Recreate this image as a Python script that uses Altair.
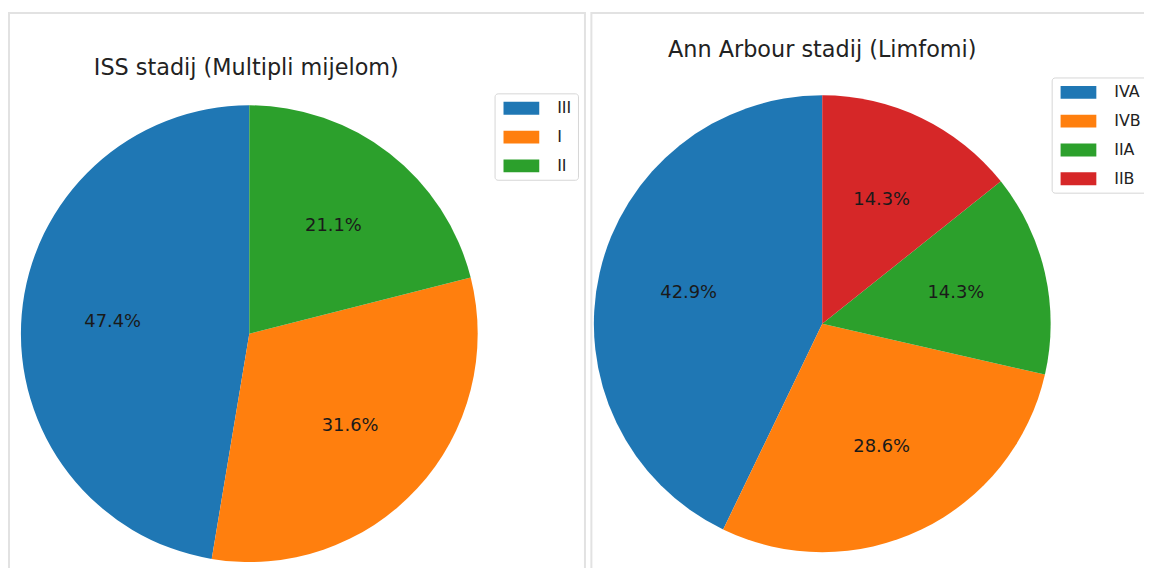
import altair as alt
import pandas as pd

# ---- data ----
left_title = ["ISS stadij (Multipli mijelom)"]
left_cats = ["III", "I", "II"]
left_counts = [9, 6, 4]
left_order = [2, 1, 0]          # clockwise drawing order starting at 12 o'clock
left_colors = ["#1f77b4", "#ff7f0e", "#2ca02c"]

right_title = ["Ann Arbour stadij (Limfomi)"]
right_cats = ["IVA", "IVB", "IIA", "IIB"]
right_counts = [3, 2, 1, 1]
right_order = [3, 2, 1, 0]
right_colors = ["#1f77b4", "#ff7f0e", "#2ca02c", "#d62728"]

FONT = "DejaVu Sans"
W, H = 1144, 560
R = 230
RECT_PATH = "M-2,-0.72H2V0.72H-2Z"

left_df = pd.DataFrame({"cat": left_cats, "n": left_counts, "ord": left_order})
right_df = pd.DataFrame({"cat": right_cats, "n": right_counts, "ord": right_order})


def pie(df, cats, colors, cx, cy, lx, ly):
    base = alt.Chart(df).transform_joinaggregate(
        total="sum(n)"
    ).transform_calculate(
        label="format(datum.n / datum.total * 100, '.1f') + '%'"
    ).encode(
        theta=alt.Theta("n:Q", stack=True),
        order=alt.Order("ord:Q", sort="ascending"),
        x=alt.value(cx),
        y=alt.value(cy),
    )
    arcs = base.mark_arc(outerRadius=R, stroke=None).encode(
        color=alt.Color(
            "cat:N",
            scale=alt.Scale(domain=cats, range=colors),
            sort=cats,
            legend=alt.Legend(
                title=None,
                orient="none",
                legendX=lx,
                legendY=ly,
                symbolType=RECT_PATH,
                symbolSize=324,
                symbolStrokeWidth=0,
                symbolOffset=12,
                labelFont=FONT,
                labelFontSize=16,
                labelColor="#222222",
                labelOffset=27,
                rowPadding=12,
                padding=6,
                strokeColor="#d6d6d6",
                fillColor="#ffffff",
                cornerRadius=3,
            ),
        )
    )
    labels = base.mark_text(
        radius=R * 0.6, font=FONT, fontSize=18, color="#1a1a1a"
    ).encode(text="label:N")
    return alt.layer(arcs, labels)


def title_text(t, cx, by):
    return alt.Chart(pd.DataFrame({"t": t})).mark_text(
        font=FONT, fontSize=22.5, color="#222222", align="center", baseline="alphabetic"
    ).encode(text="t:N", x=alt.value(cx), y=alt.value(by))


frame_df = pd.DataFrame({"k": [0]})
frame_left = alt.Chart(frame_df).mark_rect(
    filled=False, stroke="#e2e2e2", strokeWidth=2
).encode(x=alt.value(1), x2=alt.value(581), y=alt.value(3), y2=alt.value(700))
frame_right = alt.Chart(frame_df).mark_rect(
    filled=False, stroke="#e2e2e2", strokeWidth=2
).encode(x=alt.value(587.5), x2=alt.value(1400), y=alt.value(3), y2=alt.value(700))

left_pie = pie(left_df, left_cats, left_colors, 243, 326, 490, 84)
right_pie = pie(right_df, right_cats, right_colors, 820, 316, 1051, 68)

chart = alt.layer(
    frame_left,
    frame_right,
    left_pie,
    right_pie,
    title_text(left_title, 240, 65),
    title_text(right_title, 820, 47),
).resolve_scale(
    theta="independent", color="independent"
).properties(
    width=W,
    height=H,
    padding=0,
    autosize=alt.AutoSizeParams(type="none"),
).configure_view(stroke=None)

chart.save("out.html", embed_options={"renderer": "svg", "actions": False})
